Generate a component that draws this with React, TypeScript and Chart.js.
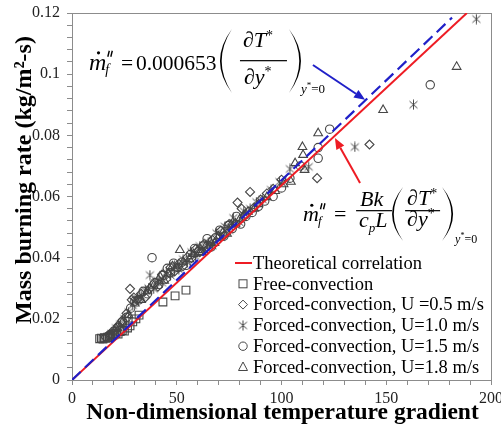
import React, { useEffect, useRef } from 'react';
import { Chart, registerables } from 'chart.js';

Chart.register(...registerables);

const SERIF = '"Liberation Serif", "Times New Roman", serif';

// ---- axes ----
const xRange = [0, 200];
const xTickStep = 10;
const xTickLabels = [0, 50, 100, 150, 200];
const yRange = [0, 0.12];
const yTickStep = 0.004;
const yTickLabels = ['0', '0.02', '0.04', '0.06', '0.08', '0.1', '0.12'];
const xTitle = 'Non-dimensional temperature gradient';
const yTitle = 'Mass burning rate (kg/m\u00B2-s)';

// ---- legend ----
const legendLabels = [
  'Theoretical correlation',
  'Free-convection',
  'Forced-convection, U =0.5 m/s',
  'Forced-convection, U=1.0 m/s',
  'Forced-convection, U=1.5 m/s',
  'Forced-convection, U=1.8 m/s',
];

// ---- lines ----
const theoryLine = [[0, 0], [188.5, 0.12]];
const fitLine = [[0, 0], [181.4, 0.1185]];

// ---- scatter series [x, y] ----
const freeConvection = [
  [13.2, 0.0135], [14.0, 0.0137], [14.8, 0.0134], [15.5, 0.0138], [16.2, 0.0136], [17.0, 0.0140],
  [17.8, 0.0139], [18.5, 0.0143], [19.2, 0.0146], [20.0, 0.0148], [21.0, 0.0152], [22.0, 0.0150],
  [23.0, 0.0158], [24.0, 0.0162], [25.0, 0.0160], [26.5, 0.0170], [27.7, 0.0177], [29.0, 0.0190],
  [30.5, 0.0200], [32.0, 0.0212], [43.4, 0.0255], [49.2, 0.0275], [54.4, 0.0294],
];
const forced05 = [
  [16, 0.0140], [18, 0.0150], [20, 0.0160], [22, 0.0178], [24, 0.0195], [26, 0.0218], [27.7, 0.0298],
  [28.5, 0.0262], [29.5, 0.0270], [31, 0.0262], [33, 0.0282], [35, 0.0270], [37, 0.0298], [39, 0.0315],
  [41, 0.0305], [43, 0.0345], [45, 0.0330], [47, 0.0368], [49, 0.0355], [51, 0.0380], [53, 0.0372],
  [55, 0.0402], [57, 0.0398], [59, 0.0428], [61, 0.0418], [63, 0.0445], [65, 0.0430], [67, 0.0458],
  [69, 0.0452], [71, 0.0488], [73, 0.0475], [75, 0.0510], [77, 0.0505], [79, 0.0580], [81, 0.0560],
  [83, 0.0540], [85, 0.0615], [87, 0.0565], [90, 0.0590], [93, 0.0610], [96, 0.0625], [100, 0.0655],
  [117, 0.0660], [142, 0.0770],
];
const forced10 = [
  [19, 0.0152], [21, 0.0170], [23, 0.0182], [25, 0.0200], [27, 0.0222], [29, 0.0245], [31, 0.0268],
  [33, 0.0275], [35, 0.0292], [36.5, 0.0300], [37.2, 0.0343], [39, 0.0298], [41, 0.0325], [43, 0.0318],
  [45, 0.0352], [47, 0.0342], [49, 0.0375], [51, 0.0362], [53, 0.0395], [55, 0.0385], [57, 0.0418],
  [59, 0.0405], [61, 0.0438], [63, 0.0425], [65, 0.0450], [67, 0.0440], [69, 0.0480], [71, 0.0468],
  [73, 0.0502], [75, 0.0490], [77, 0.0530], [80, 0.0515], [82, 0.0552], [85, 0.0560], [88, 0.0582],
  [91, 0.0590], [95, 0.0622], [99, 0.0648], [104, 0.0690], [113, 0.0697], [135, 0.0762],
  [163, 0.0900], [193, 0.1180],
];
const forced15 = [
  [18, 0.0148], [20, 0.0160], [22, 0.0172], [24, 0.0190], [26, 0.0205], [28, 0.0235], [30, 0.0258],
  [32, 0.0262], [34, 0.0290], [36, 0.0282], [38.2, 0.0400], [39.5, 0.0318], [41.5, 0.0312],
  [43.5, 0.0342], [45.5, 0.0365], [47, 0.0350], [48.5, 0.0382], [50.5, 0.0368], [52.5, 0.0385],
  [54.5, 0.0375], [56.5, 0.0410], [58.5, 0.0430], [60.5, 0.0420], [62.5, 0.0438], [64.5, 0.0462],
  [66.5, 0.0435], [68.5, 0.0465], [70.5, 0.0490], [72.5, 0.0470], [74.5, 0.0505], [76.5, 0.0495],
  [78.5, 0.0535], [80.5, 0.0510], [83, 0.0535], [86, 0.0548], [89, 0.0568], [92, 0.0585], [96, 0.0600],
  [100, 0.0628], [104, 0.0660], [109, 0.0700], [117.5, 0.0725], [117.5, 0.0760], [123, 0.0820],
  [171, 0.0965],
];
const forced18 = [
  [21, 0.0168], [24, 0.0188], [27, 0.0212], [30, 0.0250], [33, 0.0262], [36, 0.0290], [39, 0.0308],
  [42, 0.0338], [44, 0.0325], [46, 0.0348], [48, 0.0372], [50, 0.0365], [51.5, 0.0425], [53, 0.0385],
  [56, 0.0395], [58, 0.0412], [60, 0.0425], [62, 0.0418], [64, 0.0440], [66, 0.0452], [68, 0.0448],
  [70, 0.0470], [72, 0.0482], [74, 0.0478], [76, 0.0508], [78, 0.0512], [80, 0.0525], [82, 0.0538],
  [84, 0.0550], [87, 0.0560], [89, 0.0575], [93, 0.0598], [97, 0.0618], [101, 0.0640], [104.5, 0.0648],
  [106.5, 0.0709], [110, 0.0762], [110.3, 0.0736], [111, 0.0687], [117.5, 0.0807], [148.5, 0.0883],
  [183.6, 0.1024],
];

// ---- annotation anchors (data coords) ----
const eq1Anchor = [8.1, 0.1033];
const eq2Anchor = [110.3, 0.0536];
const blueArrow = [[115.0, 0.1030], [139.9, 0.0916]];
const redArrow = [[137.5, 0.0644], [125.5, 0.0791]];

const RED = '#ee1c24';
const BLUE = '#2020c8';
const MARK = '#464646';
const AXIS = '#8c8c8c';

const toXY = (arr: number[][]) => arr.map(([x, y]) => ({ x, y }));

let starImg: HTMLCanvasElement | null = null;
function makeStar(color: string) {
  const c = document.createElement('canvas');
  c.width = 11;
  c.height = 11;
  const g = c.getContext('2d')!;
  g.strokeStyle = color;
  g.lineWidth = 1;
  g.beginPath();
  g.moveTo(5.5, 0.5); g.lineTo(5.5, 10.5);
  g.moveTo(1.5, 2); g.lineTo(9.5, 9);
  g.moveTo(9.5, 2); g.lineTo(1.5, 9);
  g.stroke();
  return c;
}

function paren(ctx: CanvasRenderingContext2D, xEnd: number, xMid: number, yTop: number, yBot: number, w: number) {
  const ym = (yTop + yBot) / 2;
  const cx = 2 * xMid - xEnd;
  const s = Math.sign(xEnd - xMid);
  ctx.beginPath();
  ctx.moveTo(xEnd, yTop);
  ctx.quadraticCurveTo(cx, ym, xEnd, yBot);
  ctx.quadraticCurveTo(cx + 2 * w * s, ym, xEnd, yTop);
  ctx.closePath();
  ctx.fill();
}

function arrow(ctx: CanvasRenderingContext2D, x1: number, y1: number, x2: number, y2: number, color: string) {
  const a = Math.atan2(y2 - y1, x2 - x1);
  const L = 11, W = 4.5;
  const bx = x2 - L * Math.cos(a), by = y2 - L * Math.sin(a);
  ctx.strokeStyle = color;
  ctx.fillStyle = color;
  ctx.lineWidth = 2;
  ctx.beginPath();
  ctx.moveTo(x1, y1);
  ctx.lineTo(bx, by);
  ctx.stroke();
  ctx.beginPath();
  ctx.moveTo(x2, y2);
  ctx.lineTo(bx + W * Math.sin(a), by - W * Math.cos(a));
  ctx.lineTo(bx - W * Math.sin(a), by + W * Math.cos(a));
  ctx.closePath();
  ctx.fill();
}

const fnt = (size: number, italic = false, bold = false) =>
  `${italic ? 'italic ' : ''}${bold ? 'bold ' : ''}${size}px ${SERIF}`;

function run(ctx: CanvasRenderingContext2D, x: number, y: number, parts: [string, string, number][]) {
  let cx = x;
  for (const [t, f, dy] of parts) {
    ctx.font = f;
    ctx.fillText(t, cx, y + dy);
    cx += ctx.measureText(t).width;
  }
  return cx;
}

function drawMdot(ctx: CanvasRenderingContext2D, x: number, y: number, size: number, sub: number) {
  ctx.font = fnt(size, true);
  ctx.fillText('m', x, y);
  const mw = ctx.measureText('m').width;
  ctx.beginPath();
  ctx.arc(x + mw * 0.55, y - size * 0.72, 1.6, 0, Math.PI * 2);
  ctx.fill();
  ctx.save();
  ctx.strokeStyle = '#000';
  ctx.lineWidth = 1.4;
  ctx.beginPath();
  const px = x + mw + 1.5, py = y - size * 0.72;
  ctx.moveTo(px + 1.5, py - 2); ctx.lineTo(px, py + 4);
  ctx.moveTo(px + 4.5, py - 2); ctx.lineTo(px + 3, py + 4);
  ctx.stroke();
  ctx.restore();
  ctx.font = fnt(sub, true);
  ctx.fillText('f', x + mw - 1, y + 4);
}

const decor = {
  id: 'decor',
  beforeDatasetsDraw(chart: any) {
    const { ctx, chartArea: a } = chart;
    ctx.save();
    ctx.strokeStyle = AXIS;
    ctx.lineWidth = 1;
    ctx.strokeRect(Math.round(a.left) + 0.5, Math.round(a.top) + 0.5, Math.round(a.right - a.left), Math.round(a.bottom - a.top));
    ctx.restore();
  },
  afterDraw(chart: any) {
    const { ctx, chartArea: a } = chart;
    const xs = chart.scales.x, ys = chart.scales.y;
    const P = (d: number[]) => [xs.getPixelForValue(d[0]), ys.getPixelForValue(d[1])];
    ctx.save();
    ctx.textBaseline = 'alphabetic';
    ctx.textAlign = 'left';
    ctx.fillStyle = '#000';

    // axis titles
    ctx.font = fnt(23.5, false, true);
    ctx.textAlign = 'center';
    ctx.textBaseline = 'middle';
    ctx.fillText(xTitle, (a.left + a.right) / 2 + 1, 413);
    ctx.save();
    ctx.translate(25, 180);
    ctx.rotate(-Math.PI / 2);
    ctx.font = fnt(24, false, true);
    ctx.fillText(yTitle, 0, 0);
    ctx.restore();
    ctx.textAlign = 'left';
    ctx.textBaseline = 'alphabetic';

    // arrows
    const b1 = P(blueArrow[0]), b2 = P(blueArrow[1]);
    arrow(ctx, b1[0], b1[1], b2[0], b2[1], BLUE);
    const r1 = P(redArrow[0]), r2 = P(redArrow[1]);
    arrow(ctx, r1[0], r1[1], r2[0], r2[1], RED);
    ctx.fillStyle = '#000';
    ctx.strokeStyle = '#000';

    // equation 1
    {
      const [ax, ay] = P(eq1Anchor);
      drawMdot(ctx, ax, ay + 6, 24, 14);
      ctx.font = fnt(21.5);
      ctx.fillText('=', ax + 32, ay + 6);
      ctx.fillText('0.000653', ax + 47, ay + 6);
      paren(ctx, ax + 143, ax + 131, ay - 35, ay + 29, 1.7);
      paren(ctx, ax + 200, ax + 212, ay - 35, ay + 29, 1.7);
      run(ctx, ax + 154, ay - 17, [['\u2202', fnt(22), 0], ['T', fnt(22, true), 0], ['*', fnt(14), -7]]);
      ctx.fillRect(ax + 151, ay - 4, 47, 1.2);
      run(ctx, ax + 155, ay + 20, [['\u2202', fnt(22), 0], ['y', fnt(22, true), 0], ['*', fnt(14), -8]]);
      run(ctx, ax + 212, ay + 29, [['y', fnt(13, true), 0], ['*', fnt(9), -5], ['=0', fnt(13), 0]]);
    }
    // equation 2
    {
      const [ax, ay] = P(eq2Anchor);
      drawMdot(ctx, ax, ay + 5, 22, 13);
      ctx.font = fnt(22);
      ctx.fillText('=', ax + 31, ay + 5);
      run(ctx, ax + 57, ay - 10, [['Bk', fnt(22, true), 0]]);
      ctx.fillRect(ax + 53, ay - 6, 36, 1.2);
      run(ctx, ax + 56, ay + 11, [['c', fnt(22, true), 0], ['p', fnt(13, true), 5], ['L', fnt(22, true), 0]]);
      paren(ctx, ax + 100, ax + 89, ay - 29, ay + 25, 1.7);
      paren(ctx, ax + 139, ax + 150, ay - 29, ay + 25, 1.7);
      run(ctx, ax + 104, ay - 11, [['\u2202', fnt(22), 0], ['T', fnt(22, true), 0], ['*', fnt(14), -7]]);
      ctx.fillRect(ax + 102, ay - 6, 35, 1.2);
      run(ctx, ax + 104, ay + 10, [['\u2202', fnt(22), 0], ['y', fnt(22, true), 0], ['*', fnt(14), -8]]);
      run(ctx, ax + 152, ay + 27, [['y', fnt(12, true), 0], ['*', fnt(8), -5], ['=0', fnt(12), 0]]);
    }

    // legend
    const lx = 243, ly0 = 263, step = 20.8;
    ctx.textBaseline = 'middle';
    legendLabels.forEach((lab, i) => {
      const y = ly0 + i * step;
      ctx.fillStyle = '#000';
      ctx.font = fnt(18.5);
      ctx.fillText(lab, 253, y + 1);
      ctx.strokeStyle = i === 0 ? RED : MARK;
      ctx.lineWidth = i === 0 ? 2 : 1;
      ctx.beginPath();
      if (i === 0) {
        ctx.moveTo(235, y); ctx.lineTo(252, y); ctx.stroke();
      } else if (i === 1) {
        ctx.strokeRect(lx - 4, y - 4, 8, 8);
      } else if (i === 2) {
        ctx.moveTo(lx, y - 4.5); ctx.lineTo(lx + 4.5, y); ctx.lineTo(lx, y + 4.5); ctx.lineTo(lx - 4.5, y); ctx.closePath(); ctx.stroke();
      } else if (i === 3) {
        if (starImg) ctx.drawImage(starImg, lx - 5.5, y - 5.5);
      } else if (i === 4) {
        ctx.arc(lx, y, 4.2, 0, Math.PI * 2); ctx.stroke();
      } else {
        ctx.moveTo(lx, y - 5); ctx.lineTo(lx + 4.5, y + 3.5); ctx.lineTo(lx - 4.5, y + 3.5); ctx.closePath(); ctx.stroke();
      }
    });
    ctx.restore();
  },
};

export default function App() {
  const ref = useRef<HTMLCanvasElement>(null);
  useEffect(() => {
    starImg = makeStar(MARK);
    const scatterBase = {
      type: 'scatter' as const,
      borderColor: MARK,
      backgroundColor: 'rgba(0,0,0,0)',
      borderWidth: 1.1,
      showLine: false,
      order: 3,
    };
    const chart = new Chart(ref.current!, {
      type: 'scatter',
      data: {
        datasets: [
          { type: 'line', label: 'fit', data: toXY(fitLine), borderColor: BLUE, borderWidth: 2.2, borderDash: [12, 6], pointRadius: 0, showLine: true, fill: false, order: 0 } as any,
          { type: 'line', label: legendLabels[0], data: toXY(theoryLine), borderColor: RED, borderWidth: 2, pointRadius: 0, showLine: true, fill: false, order: 1 } as any,
          { ...scatterBase, label: legendLabels[1], data: toXY(freeConvection), pointStyle: 'rect', pointRadius: 5.5 },
          { ...scatterBase, label: legendLabels[2], data: toXY(forced05), pointStyle: 'rectRot', pointRadius: 4.5 },
          { ...scatterBase, label: legendLabels[3], data: toXY(forced10), pointStyle: starImg, pointRadius: 5 },
          { ...scatterBase, label: legendLabels[4], data: toXY(forced15), pointStyle: 'circle', pointRadius: 4.2 },
          { ...scatterBase, label: legendLabels[5], data: toXY(forced18), pointStyle: 'triangle', pointRadius: 5 },
        ],
      },
      options: {
        animation: false,
        responsive: false,
        devicePixelRatio: 1,
        layout: { padding: { top: 13, right: 10, left: 0, bottom: 0 } },
        plugins: { legend: { display: false }, tooltip: { enabled: false } },
        scales: {
          x: {
            type: 'linear',
            min: xRange[0],
            max: xRange[1],
            afterFit: (s: any) => { s.height = 49; s.paddingLeft = 0; s.paddingRight = 0; },
            grid: { display: true, drawOnChartArea: false, drawTicks: true, tickLength: 5, color: AXIS },
            border: { display: true, color: AXIS, width: 1 },
            ticks: {
              stepSize: xTickStep,
              maxTicksLimit: 100,
              autoSkip: false,
              maxRotation: 0,
              padding: 4,
              color: '#222',
              font: { family: SERIF, size: 16 },
              callback: (v: any) => {
                const r = Math.round(Number(v));
                return Math.abs(Number(v) - r) < 1e-6 && xTickLabels.includes(r) ? String(r) : '';
              },
            },
          },
          y: {
            type: 'linear',
            min: yRange[0],
            max: yRange[1],
            afterFit: (s: any) => { s.width = 72; s.paddingTop = 0; s.paddingBottom = 0; },
            grid: { display: true, drawOnChartArea: false, drawTicks: true, tickLength: 5, color: AXIS },
            border: { display: true, color: AXIS, width: 1 },
            ticks: {
              stepSize: yTickStep,
              maxTicksLimit: 100,
              autoSkip: false,
              padding: 7,
              color: '#222',
              font: { family: SERIF, size: 16 },
              callback: (v: any) => {
                const k = Math.round((Number(v) / 0.02) * 1000) / 1000;
                return Number.isInteger(k) && yTickLabels[k] !== undefined ? yTickLabels[k] : '';
              },
            },
          },
        },
      },
      plugins: [decor],
    } as any);
    return () => chart.destroy();
  }, []);
  return (
    <div style={{ position: 'fixed', left: 0, top: 0, width: 501, height: 429, background: '#fff' }}>
      <canvas ref={ref} width={501} height={429} style={{ display: 'block' }} />
    </div>
  );
}
